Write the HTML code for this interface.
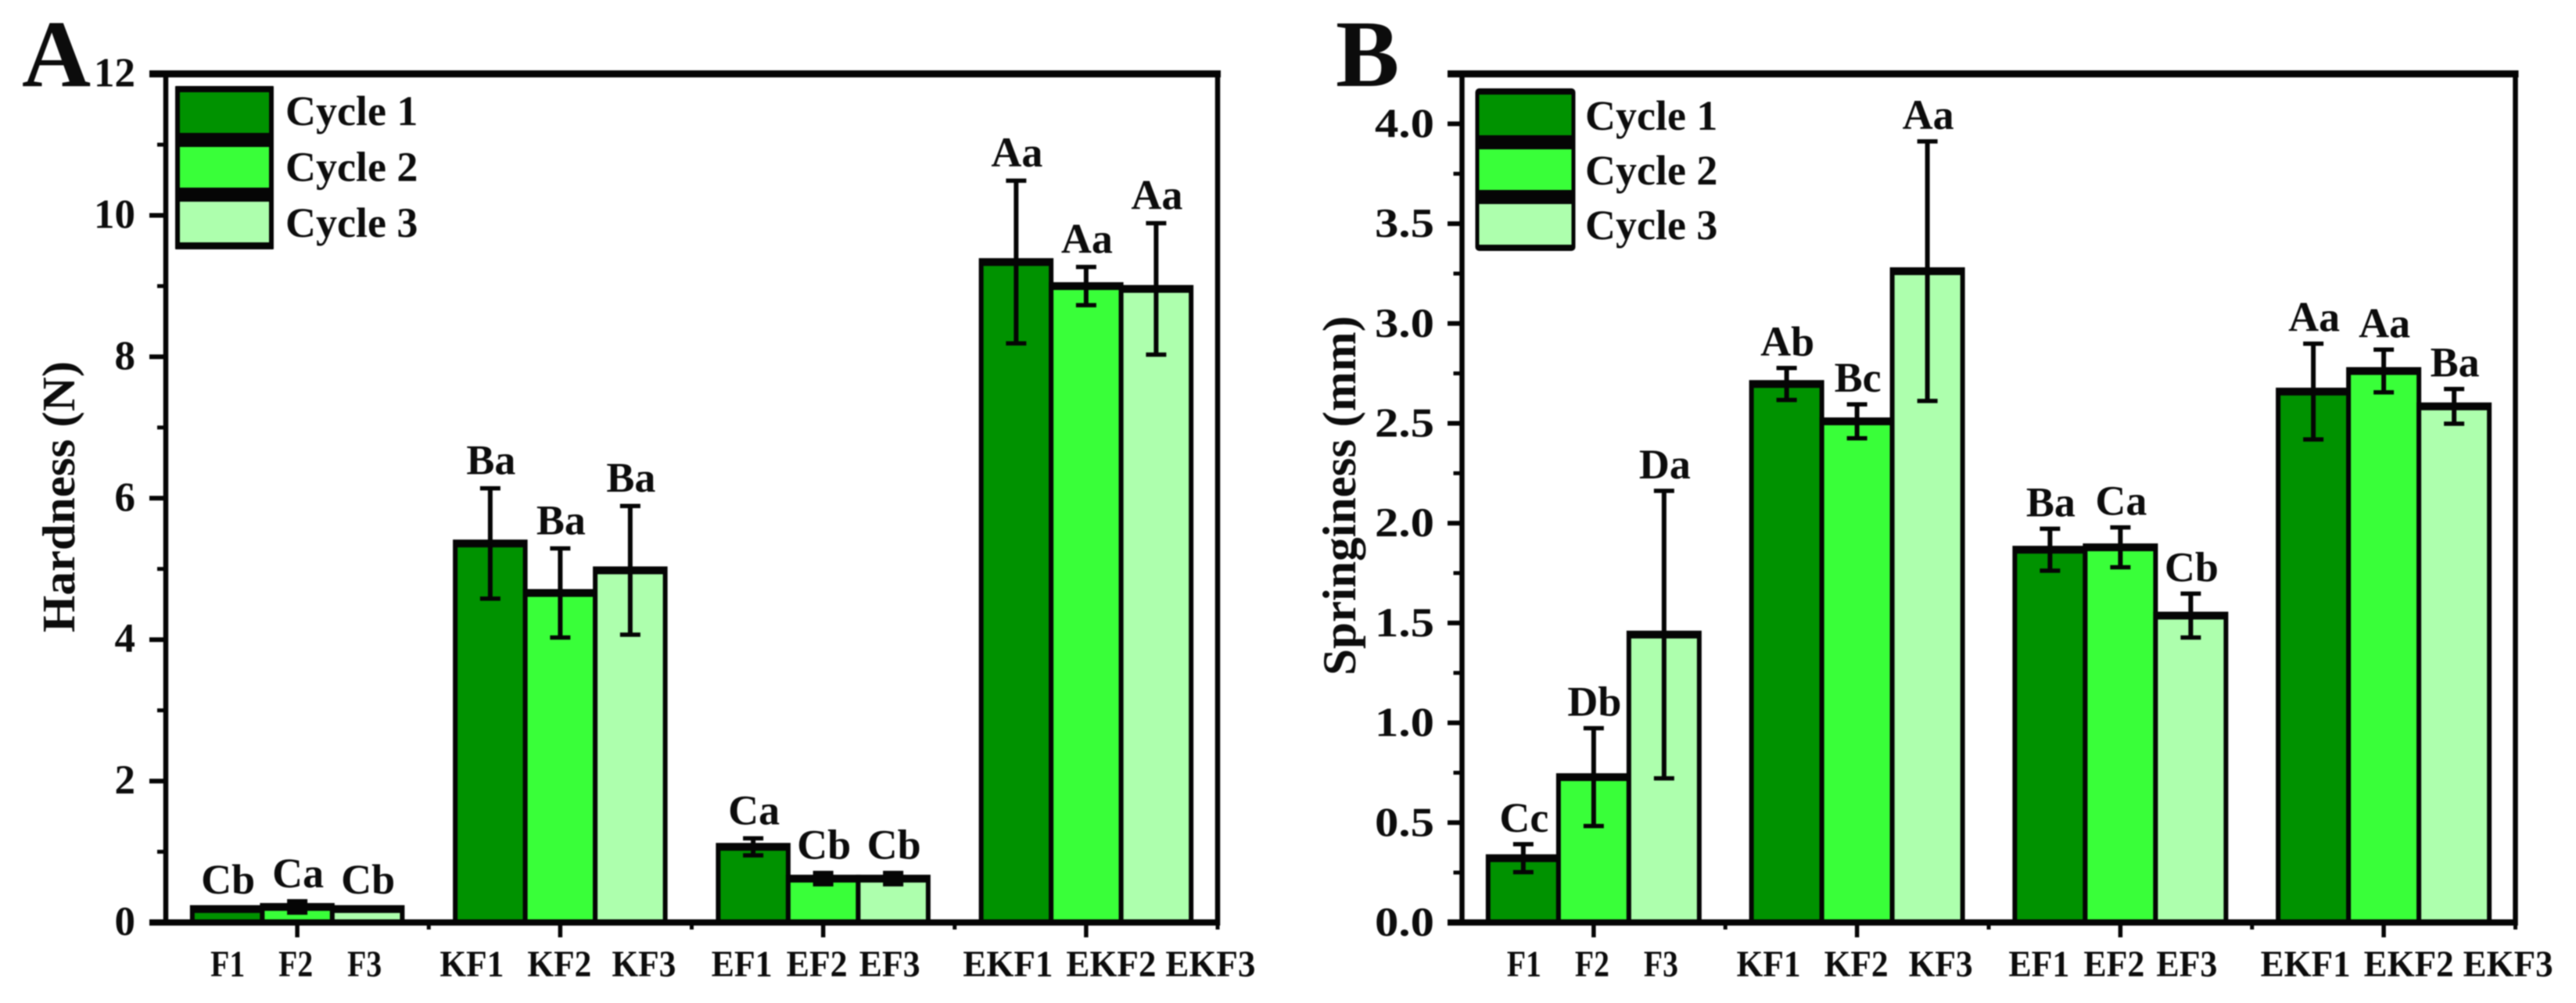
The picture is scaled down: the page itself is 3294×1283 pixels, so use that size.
<!DOCTYPE html>
<html lang="en">
<head>
<meta charset="utf-8">
<title>Hardness and springiness over three cycles</title>
<style>
html,body{margin:0;padding:0;background:#fff;}
svg{display:block;filter:blur(0.7px);}
text{font-family:"Liberation Serif",serif;font-weight:bold;fill:#0c0c0c;}
</style>
</head>
<body>
<svg id="figure" xmlns="http://www.w3.org/2000/svg" width="3294" height="1283" viewBox="0 0 3294 1283">
  <rect x="0" y="0" width="3294" height="1283" fill="#ffffff"/>
  <text x="28" y="110" font-size="122">A</text>
  <text x="1708" y="110" font-size="122">B</text>
  <text transform="translate(95,809) rotate(-90)" font-size="59" textLength="347" lengthAdjust="spacingAndGlyphs">Hardness (N)</text>
  <text transform="translate(1733,864) rotate(-90)" font-size="60" textLength="460" lengthAdjust="spacingAndGlyphs">Springiness (mm)</text>
</svg>
<script>
// ---- Data ----
const groupNames = [["F1","F2","F3"],["KF1","KF2","KF3"],["EF1","EF2","EF3"],["EKF1","EKF2","EKF3"]];
const cycleNames = ["Cycle 1","Cycle 2","Cycle 3"];

const hardnessTicks = [0,2,4,6,8,10,12];
const hardnessTickLabels = ["0","2","4","6","8","10","12"];
const hardnessCycle1 = [0.19,5.36,1.07,9.34];
const hardnessCycle2 = [0.22,4.66,0.62,9.00];
const hardnessCycle3 = [0.19,4.98,0.62,8.96];
const hardnessError1 = [0.02,0.78,0.12,1.15];
const hardnessError2 = [0.08,0.63,0.08,0.27];
const hardnessError3 = [0.02,0.91,0.08,0.93];
const hardnessLetters1 = ["Cb","Ba","Ca","Aa"];
const hardnessLetters2 = ["Ca","Ba","Cb","Aa"];
const hardnessLetters3 = ["Cb","Ba","Cb","Aa"];

const springTicks = [0,0.5,1,1.5,2,2.5,3,3.5,4];
const springTickLabels = ["0.0","0.5","1.0","1.5","2.0","2.5","3.0","3.5","4.0"];
const springCycle1 = [0.322,2.697,1.867,2.659];
const springCycle2 = [0.728,2.51,1.879,2.762];
const springCycle3 = [1.442,3.262,1.537,2.585];
const springError1 = [0.07,0.08,0.105,0.24];
const springError2 = [0.245,0.085,0.10,0.107];
const springError3 = [0.72,0.65,0.11,0.087];
const springLetters1 = ["Cc","Ab","Ba","Aa"];
const springLetters2 = ["Db","Bc","Ca","Aa"];
const springLetters3 = ["Da","Aa","Cb","Ba"];

// ---- Styling and layout ----
const fills = ["#009200","#39ff39","#adffad"];
const tickLabelLayout = [
  {offsets:[-89,-2,86],   width:44},
  {offsets:[-113,-1,107], width:82},
  {offsets:[-104,-8,85],  width:78},
  {offsets:[-100,32,159], width:115}
];
const svg = document.getElementById("figure");
const NS = "http://www.w3.org/2000/svg";

function shape(tag, attrs, parent){
  const el = document.createElementNS(NS, tag);
  for (const k in attrs) el.setAttribute(k, attrs[k]);
  (parent || svg).appendChild(el);
  return el;
}

function drawChart(cfg){
  const yOf = v => cfg.bottom - (v - 0) * cfg.unit;
  const groupX = g => cfg.left + (2 * g + 1) * (cfg.right - cfg.left) / 8;
  const barX = (g, s) => groupX(g) + (s - 1) * cfg.barStep;

  // bars
  cfg.series.forEach((values, s) => {
    values.forEach((v, g) => {
      const cx = barX(g, s);
      const half = cfg.barStep / 2;
      const y = yOf(v);
      const outline = shape("rect", {x:cx-half-3, y:y-5, width:2*half+6, height:cfg.bottom-y+5, fill:"#050505"});
      
      
      const bar = shape("rect", {x:cx-half+3, y:y+5, width:2*half-6, height:Math.max(0,cfg.bottom-y-5), fill:fills[s]});
      
      
    });
  });

  // error bars and significance letters
  cfg.series.forEach((values, s) => {
    values.forEach((v, g) => {
      const cx = barX(g, s);
      const e = cfg.errors[s][g];
      const top = yOf(v + e), low = yOf(v - e);
      const stem = shape("line", {x1:cx, x2:cx, y1:top, y2:low, stroke:"#050505", "stroke-width":6});
      
      
      const capTop = shape("line", {x1:cx-13, x2:cx+13, y1:top, y2:top, stroke:"#050505", "stroke-width":5.5});
      
      
      const capLow = shape("line", {x1:cx-13, x2:cx+13, y1:low, y2:low, stroke:"#050505", "stroke-width":5.5});
      
      
      const letter = shape("text", {x:cx+1, y:top-cfg.letterGap, "font-size":54, "text-anchor":"middle"});
      letter.textContent = cfg.letters[s][g];
      
      
    });
  });

  // frame
  const topAxis = shape("line", {x1:cfg.left-cfg.majorLen, x2:cfg.right+4, y1:cfg.top, y2:cfg.top, stroke:"#050505", "stroke-width":9});
  
  
  const bottomAxis = shape("line", {x1:cfg.left-cfg.majorLen, x2:cfg.right+3, y1:cfg.bottom, y2:cfg.bottom, stroke:"#050505", "stroke-width":8});
  
  
  const leftAxis = shape("line", {x1:cfg.left, x2:cfg.left, y1:cfg.top, y2:cfg.bottom+4, stroke:"#050505", "stroke-width":6.5});
  
  
  const rightAxis = shape("line", {x1:cfg.right, x2:cfg.right, y1:cfg.top, y2:cfg.bottom+4, stroke:"#050505", "stroke-width":6.5});
  
  

  // y ticks
  cfg.ticks.forEach((t, i) => {
    const y = yOf(t);
    const tick = shape("line", {x1:cfg.left-cfg.majorLen, x2:cfg.left, y1:y, y2:y, stroke:"#050505", "stroke-width":6});
    
    
    const label = shape("text", {x:cfg.tickLabelRight, y:y+cfg.tickLabelDy, "font-size":53, "text-anchor":"end"});
    if (cfg.tickLabelWidth) {
      label.setAttribute("textLength", cfg.tickLabelWidth);
      label.setAttribute("lengthAdjust", "spacingAndGlyphs");
    }
    label.textContent = cfg.tickLabels[i];
    
    
    if (i < cfg.ticks.length - 1) {
      const my = yOf((t + cfg.ticks[i+1]) / 2);
      const minor = shape("line", {x1:cfg.left-11, x2:cfg.left, y1:my, y2:my, stroke:"#050505", "stroke-width":5});
      
      
    }
  });

  // x ticks and labels
  groupNames.forEach((names, g) => {
    const gx = groupX(g);
    const tick = shape("line", {x1:gx, x2:gx, y1:cfg.bottom, y2:cfg.bottom+19, stroke:"#050505", "stroke-width":5.5});
    
    
    const mx = cfg.left + 2 * (g + 1) * (cfg.right - cfg.left) / 8;
    const minor = shape("line", {x1:mx, x2:mx, y1:cfg.bottom, y2:cfg.bottom+9, stroke:"#050505", "stroke-width":5});
    
    
    names.forEach((name, i) => {
      const lay = tickLabelLayout[g];
      const label = shape("text", {x:gx+lay.offsets[i], y:1249, "font-size":48, "text-anchor":"middle", textLength:lay.width, lengthAdjust:"spacingAndGlyphs"});
      label.textContent = name;
      
      
    });
  });

  // legend
  const lg = cfg.legend;
  const frame = shape("rect", {x:lg.x, y:lg.y, width:lg.w, height:lg.h, fill:"#050505", rx:lg.rx});
  
  
  cycleNames.forEach((name, s) => {
    const swatch = shape("rect", {x:lg.x+lg.inset, y:lg.y+lg.swatchTop+s*lg.step, width:lg.w-2*lg.inset, height:lg.swatchH, fill:fills[s]});
    
    
    const label = shape("text", {x:lg.textX, y:lg.textY+s*lg.textStep, "font-size":54});
    label.textContent = name;
    
    
  });
}

drawChart({
  left:212, right:1557, top:94.5, bottom:1180, unit:90.45, barStep:89.5,
  majorLen:21, tickLabelRight:173, tickLabelDy:16, letterGap:18,
  ticks:hardnessTicks, tickLabels:hardnessTickLabels,
  series:[hardnessCycle1,hardnessCycle2,hardnessCycle3],
  errors:[hardnessError1,hardnessError2,hardnessError3],
  letters:[hardnessLetters1,hardnessLetters2,hardnessLetters3],
  legend:{x:224,y:110,w:126,h:209,rx:1,inset:6,swatchTop:8,swatchH:52,step:70,textX:365,textY:160,textStep:71.5}
});

drawChart({
  left:1869.5, right:3216.5, top:94.5, bottom:1180, unit:255.4, barStep:90,
  majorLen:18.5, tickLabelRight:1834, tickLabelDy:17, tickLabelWidth:76, letterGap:16,
  ticks:springTicks, tickLabels:springTickLabels,
  series:[springCycle1,springCycle2,springCycle3],
  errors:[springError1,springError2,springError3],
  letters:[springLetters1,springLetters2,springLetters3],
  legend:{x:1886.5,y:113,w:128,h:208,rx:5,inset:5,swatchTop:8,swatchH:52,step:70,textX:2027,textY:166,textStep:70}
});
</script>
</body>
</html>
